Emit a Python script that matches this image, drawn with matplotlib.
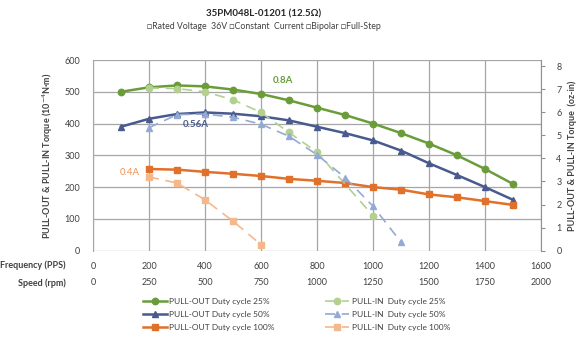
import matplotlib.pyplot as plt

plt.rcParams['font.family'] = ['Lato', 'DejaVu Sans']

# pull-out curves (10^-4 N*m) vs. frequency (PPS)
out_pps = [100, 200, 300, 400, 500, 600, 700, 800, 900, 1000, 1100, 1200, 1300, 1400, 1500]
out_25 = [500, 514, 520, 517, 507, 493, 473, 450, 427, 400, 370, 337, 300, 257, 210]
out_50 = [390, 415, 430, 435, 431, 423, 410, 390, 370, 347, 315, 275, 238, 200, 160]
out_100_pps = [200, 300, 400, 500, 600, 700, 800, 900, 1000, 1100, 1200, 1300, 1400, 1500]
out_100 = [257, 255, 248, 242, 235, 226, 220, 213, 200, 192, 177, 168, 156, 144]

# pull-in curves
in_25_pps = [200, 300, 400, 500, 600, 700, 800, 1000]
in_25 = [512, 510, 500, 475, 435, 372, 310, 110]
in_50_pps = [200, 300, 400, 500, 600, 700, 800, 900, 1000, 1100]
in_50 = [387, 428, 430, 420, 398, 360, 302, 230, 140, 27]
in_100_pps = [200, 300, 400, 500, 600]
in_100 = [232, 213, 160, 93, 19]

freq_ticks = [0, 200, 400, 600, 800, 1000, 1200, 1400, 1600]
rpm_labels = ['0', '250', '500', '750', '1000', '1250', '1500', '1750', '2000']

green, navy, orange = '#6a9d3a', '#485a8e', '#e0702a'
lgreen, lblue, lorange = '#b4d08f', '#94aad6', '#f4b88c'
txt = '#404040'

fig = plt.figure(figsize=(5.8, 3.39), dpi=100)
ax = fig.add_axes([0.1603, 0.2605, 0.7725, 0.5625])

dash = (0, (6, 4))
h1, = ax.plot(out_pps, out_25, color=green, lw=1.8, marker='o', ms=4.6,
              label='PULL-OUT Duty cycle 25%')
h2, = ax.plot(out_pps, out_50, color=navy, lw=1.8, marker='^', ms=4.6,
              label='PULL-OUT Duty cycle 50%')
h3, = ax.plot(out_100_pps, out_100, color=orange, lw=1.8, marker='s', ms=4.6,
              label='PULL-OUT Duty cycle 100%')
h4, = ax.plot(in_25_pps, in_25, color=lgreen, lw=1.2, ls=dash, marker='o', ms=4.6,
              label='PULL-IN  Duty cycle 25%')
h5, = ax.plot(in_50_pps, in_50, color=lblue, lw=1.2, ls=dash, marker='^', ms=4.6,
              label='PULL-IN  Duty cycle 50%')
h6, = ax.plot(in_100_pps, in_100, color=lorange, lw=1.2, ls=dash, marker='s', ms=4.6,
              label='PULL-IN  Duty cycle 100%')

ax.set_xlim(0, 1600)
ax.set_ylim(0, 600)
ax.set_xticks(freq_ticks)
ax.set_yticks(range(0, 601, 100))
ax.grid(True, color='#a6a6a6', lw=0.9)
ax.set_axisbelow(True)
for s in ax.spines.values():
    s.set_visible(False)
ax.spines['left'].set_visible(True)
ax.spines['left'].set_color('#a6a6a6')
ax.tick_params(length=0, labelsize=6.5, labelcolor=txt)
ax.tick_params(axis='y', pad=9)
ax.tick_params(axis='x', pad=8)
ax.set_ylabel('PULL-OUT & PULL-IN Torque (10$^{-4}$N·m)', fontsize=6.5,
              fontweight='bold', color=txt, labelpad=7)

# second torque scale in oz-in
ax2 = ax.twinx()
ax2.set_ylim(0, 8.26)
ax2.set_yticks(range(0, 9))
for s in ax2.spines.values():
    s.set_visible(False)
ax2.spines['right'].set_visible(True)
ax2.spines['right'].set_color('#909090')
ax2.tick_params(axis='y', length=3, color='#909090', labelsize=6.5, labelcolor=txt, pad=8)
ax2.set_ylabel('PULL-OUT & PULL-IN Torque  (oz-in)', fontsize=6.5,
               fontweight='bold', color=txt, labelpad=4)

# speed row under the frequency row
sec = ax.secondary_xaxis(-0.131)
sec.set_xticks(freq_ticks, rpm_labels)
sec.spines['bottom'].set_visible(False)
sec.tick_params(length=0, labelsize=6.5, labelcolor=txt, pad=2)

fig.text(0.114, 0.218, 'Frequency (PPS)', ha='right', va='center', fontsize=6.5,
         fontweight='bold', color=txt)
fig.text(0.114, 0.165, 'Speed (rpm)', ha='right', va='center', fontsize=6.5,
         fontweight='bold', color=txt)

ax.text(679, 537, '0.8A', color=green, fontsize=7, fontweight='bold', ha='center', va='center')
ax.text(368, 398, '0.56A', color=navy, fontsize=7, fontweight='bold', ha='center', va='center')
ax.text(132, 245, '0.4A', color='#f0945a', fontsize=7, ha='center', va='center')

fig.text(0.455, 0.959, '35PM048L-01201 (12.5Ω)', ha='center', va='center', fontsize=7,
         fontweight='bold', color='#262626')
fig.text(0.455, 0.921, '□Rated Voltage  36V □Constant  Current □Bipolar □Full-Step',
         ha='center', va='center', fontsize=6.3, color=txt)

fig.legend(handles=[h1, h2, h3, h4, h5, h6], ncol=2, loc='upper left',
           bbox_to_anchor=(0.246, 0.122), borderaxespad=0, borderpad=0,
           frameon=False, fontsize=6,
           handlelength=2.9, handletextpad=0.3, columnspacing=6.0,
           labelspacing=0.75, labelcolor=txt)

fig.savefig('out.png', dpi=100)
